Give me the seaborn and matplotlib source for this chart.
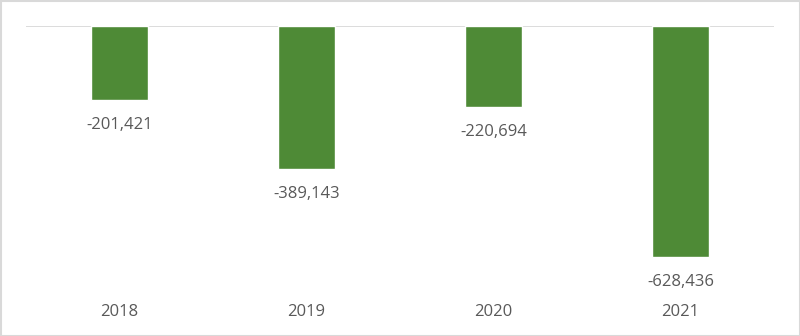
import matplotlib
matplotlib.use("Agg")
import matplotlib.pyplot as plt
import seaborn as sns
import pandas as pd
from matplotlib.patches import Rectangle

years = ["2018", "2019", "2020", "2021"]
values = [-201421, -389143, -220694, -628436]
labels = ["-201,421", "-389,143", "-220,694", "-628,436"]

sns.set_theme(style="white")
plt.rcParams['font.family'] = ['Open Sans', 'DejaVu Sans']

df = pd.DataFrame({"year": years, "value": values})

fig = plt.figure(figsize=(8, 3.36), dpi=100)
ax = fig.add_axes([26/800, 1 - 290/336, 748/800, 264/336])
sns.barplot(data=df, x="year", y="value", color="#4E8A36", saturation=1,
            width=0.305, ax=ax)
ax.set_ylim(-718213, 0)
ax.set_xlim(-0.5, 3.5)
ax.axhline(0, color="#d9d9d9", lw=1.3, zorder=0)
for s in ax.spines.values():
    s.set_visible(False)
ax.set_yticks([])
ax.set_xlabel("")
ax.set_ylabel("")
ax.tick_params(axis="x", length=0, pad=10, labelsize=12, labelcolor="#595959")
ax.bar_label(ax.containers[0], labels=labels, padding=12.5, fontsize=12, color="#595959")
fig.patches.append(Rectangle((0.5/800, 0.5/336), 1 - 1/800, 1 - 1/336,
                             transform=fig.transFigure, fill=False,
                             edgecolor="#d9d9d9", lw=1.5))
fig.savefig("out.png", dpi=100)
